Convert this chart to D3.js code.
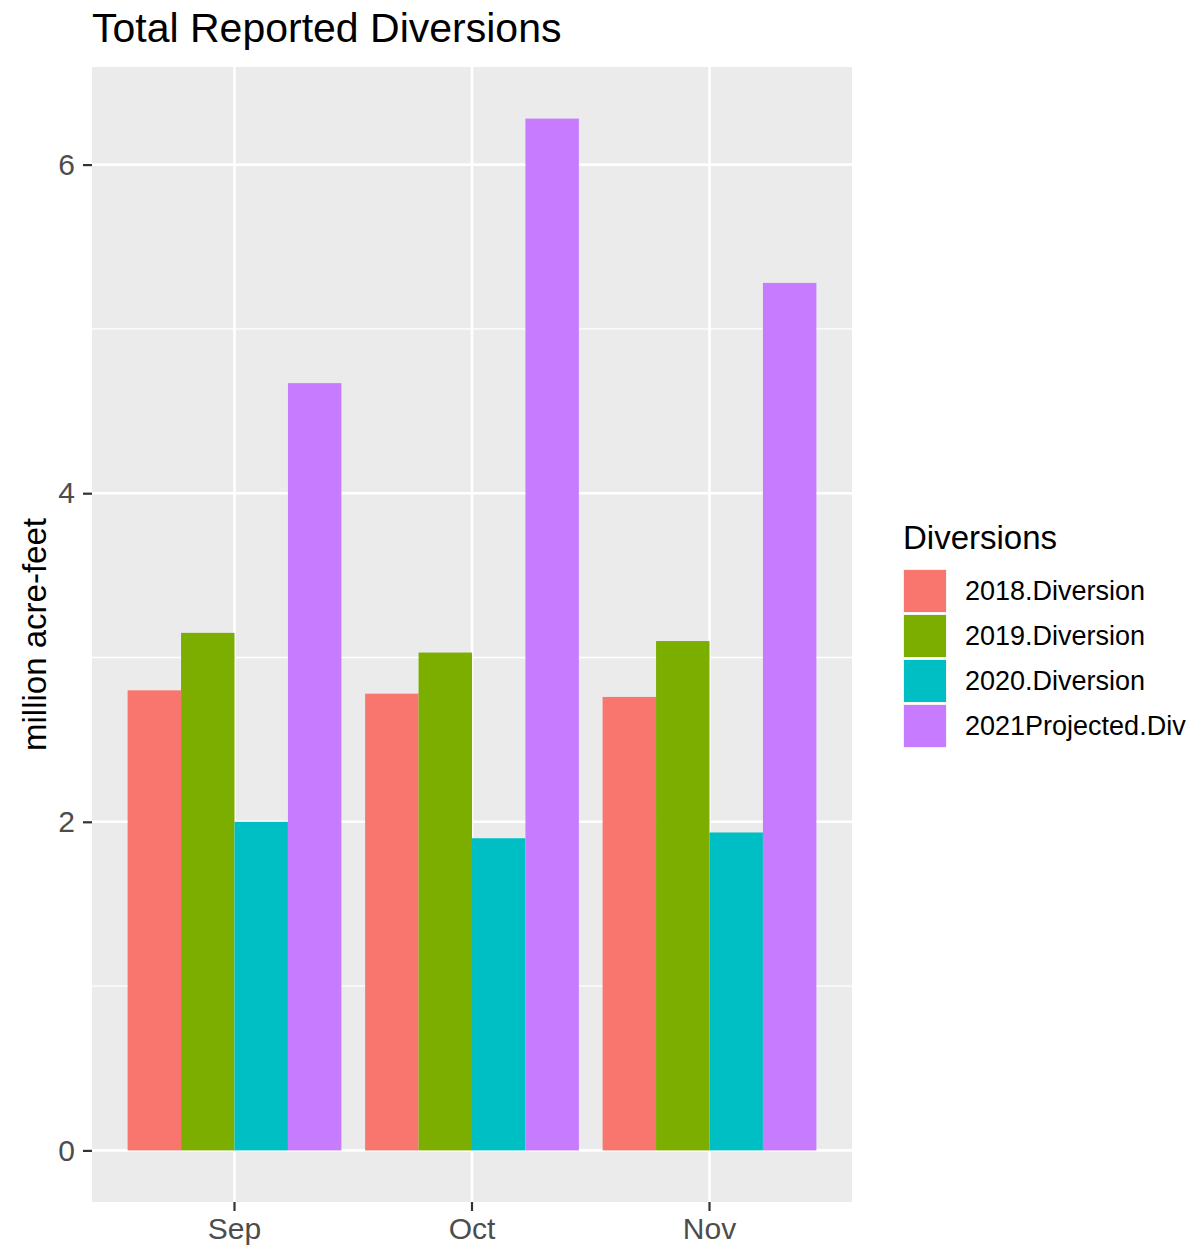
<!DOCTYPE html>
<html>
<head>
<meta charset="utf-8">
<script src="https://cdn.jsdelivr.net/npm/d3@7"></script>
<style>
  body { margin: 0; background: #fff; }
  text { font-family: "Liberation Sans", Arial, sans-serif; }
</style>
</head>
<body>
<div id="chart"></div>
<script>
// Data (million acre-feet)
let months = ['Sep', 'Oct', 'Nov'];
let seriesNames = ['2018.Diversion', '2019.Diversion', '2020.Diversion', '2021Projected.Div'];
let div2018 = [2.80, 2.78, 2.76];
let div2019 = [3.15, 3.03, 3.10];
let div2020 = [2.00, 1.90, 1.935];
let div2021 = [4.67, 6.28, 5.28];
let seriesColors = ['#F8766D', '#7CAE00', '#00BFC4', '#C77CFF'];
let yTicks = [0, 2, 4, 6];
let yMinor = [1, 3, 5];

let svgWidth = 1204;
let svgHeight = 1253;

// panel area (ggplot grey box)
let panel = { left: 92, top: 67, right: 852, bottom: 1202 };

let svg = d3.select('#chart')
    .append('svg')
    .attr('width', svgWidth)
    .attr('height', svgHeight);

svg.append('rect')
    .attr('width', svgWidth)
    .attr('height', svgHeight)
    .attr('fill', '#fff');

// build long table from the series arrays
let allSeries = [div2018, div2019, div2020, div2021];
let rows = [];
months.forEach(function(m, i) {
    seriesNames.forEach(function(s, j) {
        rows.push({ month: m, series: s, value: allSeries[j][i] });
    });
});

// scales - ggplot style expansion (0.6 units on discrete, 5% on continuous)
let xScale = d3.scaleBand()
    .domain(months)
    .range([panel.left, panel.right])
    .paddingInner(0.1)
    .paddingOuter(0.15);

let xInner = d3.scaleBand()
    .domain(seriesNames)
    .range([0, xScale.bandwidth()]);

let maxVal = d3.max(rows, d => d.value);
let yScale = d3.scaleLinear()
    .domain([-maxVal * 0.05, maxVal * 1.05])
    .range([panel.bottom, panel.top]);

let colorScale = d3.scaleOrdinal()
    .domain(seriesNames)
    .range(seriesColors);

// panel background
svg.append('rect')
    .attr('x', panel.left)
    .attr('y', panel.top)
    .attr('width', panel.right - panel.left)
    .attr('height', panel.bottom - panel.top)
    .attr('fill', '#EBEBEB');

// minor grid
svg.append('g')
    .selectAll('line')
    .data(yMinor)
    .enter()
    .append('line')
    .attr('x1', panel.left)
    .attr('x2', panel.right)
    .attr('y1', d => yScale(d))
    .attr('y2', d => yScale(d))
    .attr('stroke', '#fff')
    .attr('stroke-width', 1.3);

// major grid
svg.append('g')
    .selectAll('line')
    .data(yTicks)
    .enter()
    .append('line')
    .attr('x1', panel.left)
    .attr('x2', panel.right)
    .attr('y1', d => yScale(d))
    .attr('y2', d => yScale(d))
    .attr('stroke', '#fff')
    .attr('stroke-width', 2.6);

svg.append('g')
    .selectAll('line')
    .data(months)
    .enter()
    .append('line')
    .attr('x1', d => xScale(d) + xScale.bandwidth() / 2)
    .attr('x2', d => xScale(d) + xScale.bandwidth() / 2)
    .attr('y1', panel.top)
    .attr('y2', panel.bottom)
    .attr('stroke', '#fff')
    .attr('stroke-width', 2.6);

// bars
svg.append('g')
    .selectAll('rect')
    .data(rows)
    .enter()
    .append('rect')
    .attr('x', d => xScale(d.month) + xInner(d.series))
    .attr('width', xInner.bandwidth())
    .attr('y', d => yScale(d.value))
    .attr('height', d => yScale(0) - yScale(d.value))
    .attr('fill', d => colorScale(d.series));

// y axis
let leftAxis = d3.axisLeft(yScale)
    .tickValues(yTicks)
    .tickFormat(d3.format('d'))
    .tickSize(9)
    .tickPadding(8);

let yAxis = svg.append('g')
    .attr('transform', `translate(${panel.left}, 0)`)
    .call(leftAxis);
yAxis.select('.domain').remove();
yAxis.selectAll('line').attr('stroke', '#333').attr('stroke-width', 2.2);
yAxis.selectAll('text')
    .attr('fill', '#4D4D4D')
    .style('font-size', '30px')
    .style('font-family', '"Liberation Sans", Arial, sans-serif');

// x axis
let bottomAxis = d3.axisBottom(xScale)
    .tickSize(9)
    .tickPadding(7);

let xAxis = svg.append('g')
    .attr('transform', `translate(0, ${panel.bottom})`)
    .call(bottomAxis);
xAxis.select('.domain').remove();
xAxis.selectAll('line').attr('stroke', '#333').attr('stroke-width', 2.2);
xAxis.selectAll('text')
    .attr('fill', '#4D4D4D')
    .style('font-size', '30px')
    .style('font-family', '"Liberation Sans", Arial, sans-serif');

// y axis title
svg.append('text')
    .attr('transform', `translate(46, ${(panel.top + panel.bottom) / 2}) rotate(-90)`)
    .attr('text-anchor', 'middle')
    .attr('fill', '#000')
    .style('font-size', '33px')
    .text('million acre-feet');

// plot title
svg.append('text')
    .attr('x', panel.left)
    .attr('y', 42)
    .attr('fill', '#000')
    .style('font-size', '41px')
    .text('Total Reported Diversions');

// legend
let legend = svg.append('g')
    .attr('transform', 'translate(903, 0)');

legend.append('text')
    .attr('x', 0)
    .attr('y', 549)
    .attr('fill', '#000')
    .style('font-size', '33px')
    .text('Diversions');

let keys = legend.selectAll('g.key')
    .data(seriesNames)
    .enter()
    .append('g')
    .attr('class', 'key')
    .attr('transform', (d, i) => `translate(0, ${569 + i * 45})`);

keys.append('rect')
    .attr('x', 0)
    .attr('y', 0)
    .attr('width', 44)
    .attr('height', 44)
    .attr('fill', '#F2F2F2');

keys.append('rect')
    .attr('x', 1)
    .attr('y', 1)
    .attr('width', 42)
    .attr('height', 42)
    .attr('fill', d => colorScale(d));

keys.append('text')
    .attr('x', 62)
    .attr('y', 22)
    .attr('dy', '0.35em')
    .attr('fill', '#000')
    .style('font-size', '27px')
    .text(d => d);
</script>
</body>
</html>
